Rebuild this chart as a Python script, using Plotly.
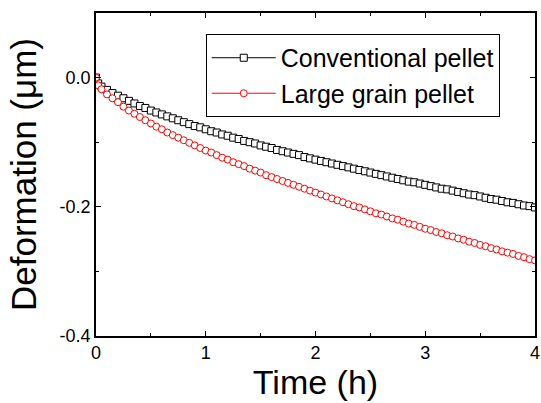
import plotly.graph_objects as go

# Time (h)
time_h = [0.0, 0.02, 0.05, 0.10, 0.15, 0.20, 0.25, 0.30, 0.35, 0.40, 0.45, 0.50, 0.55, 0.60, 0.65, 0.70,
          0.75, 0.80, 0.85, 0.90, 0.95, 1.00, 1.05, 1.10, 1.15, 1.20, 1.25, 1.30, 1.35, 1.40, 1.45,
          1.50, 1.55, 1.60, 1.65, 1.70, 1.75, 1.80, 1.85, 1.90, 1.95, 2.00, 2.05, 2.10, 2.15, 2.20,
          2.25, 2.30, 2.35, 2.40, 2.45, 2.50, 2.55, 2.60, 2.65, 2.70, 2.75, 2.80, 2.85, 2.90, 2.95,
          3.00, 3.05, 3.10, 3.15, 3.20, 3.25, 3.30, 3.35, 3.40, 3.45, 3.50, 3.55, 3.60, 3.65, 3.70,
          3.75, 3.80, 3.85, 3.90, 3.95, 4.00]

# Deformation (um), conventional pellet
conventional = [0.000, -0.009, -0.014, -0.019, -0.024, -0.028, -0.032, -0.036, -0.040, -0.044, -0.047,
                -0.051, -0.054, -0.057, -0.060, -0.063, -0.066, -0.069, -0.072, -0.075, -0.077,
                -0.080, -0.083, -0.085, -0.088, -0.090, -0.093, -0.095, -0.098, -0.100, -0.102,
                -0.105, -0.107, -0.109, -0.112, -0.114, -0.116, -0.118, -0.120, -0.123, -0.125,
                -0.127, -0.129, -0.131, -0.133, -0.135, -0.137, -0.139, -0.141, -0.143, -0.145,
                -0.147, -0.149, -0.151, -0.153, -0.155, -0.157, -0.159, -0.161, -0.162, -0.164,
                -0.166, -0.168, -0.170, -0.172, -0.173, -0.175, -0.177, -0.179, -0.181, -0.182,
                -0.184, -0.186, -0.188, -0.189, -0.191, -0.193, -0.194, -0.196, -0.198, -0.199,
                -0.201]

# Deformation (um), large grain pellet
large_grain = [0.000, -0.012, -0.018, -0.026, -0.032, -0.038, -0.045, -0.051, -0.056, -0.061, -0.066,
               -0.071, -0.076, -0.080, -0.085, -0.089, -0.093, -0.097, -0.101, -0.105, -0.109,
               -0.113, -0.116, -0.120, -0.124, -0.127, -0.131, -0.134, -0.137, -0.141, -0.144,
               -0.147, -0.151, -0.154, -0.157, -0.160, -0.163, -0.166, -0.169, -0.172, -0.175,
               -0.178, -0.181, -0.184, -0.187, -0.190, -0.193, -0.196, -0.199, -0.201, -0.204,
               -0.207, -0.210, -0.212, -0.215, -0.218, -0.220, -0.223, -0.226, -0.228, -0.231,
               -0.234, -0.236, -0.239, -0.241, -0.244, -0.246, -0.249, -0.251, -0.254, -0.256,
               -0.259, -0.261, -0.264, -0.266, -0.269, -0.271, -0.273, -0.276, -0.278, -0.281,
               -0.283]

x_ticks = [0, 1, 2, 3, 4]
y_ticks = [-0.4, -0.2, 0.0]
y_tick_labels = ["-0.4", "-0.2", "0.0"]

FONT = "Arial, Liberation Sans, sans-serif"

fig = go.Figure()
fig.add_trace(go.Scatter(
    x=time_h, y=conventional, name="Conventional pellet", mode="lines+markers",
    line=dict(color="black", width=1),
    marker=dict(symbol="square", size=7, color="white", line=dict(color="black", width=1)),
))
fig.add_trace(go.Scatter(
    x=time_h, y=large_grain, name="Large grain pellet", mode="lines+markers",
    line=dict(color="red", width=1),
    marker=dict(symbol="circle", size=7, color="white", line=dict(color="red", width=1)),
))

axis_common = dict(
    showline=True, linecolor="black", linewidth=1.5, mirror="ticks",
    ticks="inside", ticklen=5, tickwidth=1, tickcolor="black",
    showgrid=False, zeroline=False, automargin=False,
    tickfont=dict(family=FONT, size=18, color="black"),
)

fig.update_xaxes(
    range=[0, 4], tickvals=x_ticks,
    minor=dict(ticks="inside", ticklen=3, dtick=0.5, tick0=0, tickcolor="black", showgrid=False),
    title=dict(text="Time (h)", font=dict(family=FONT, size=34, color="black"), standoff=7),
    **axis_common,
)
fig.update_yaxes(
    range=[-0.4, 0.1], tickvals=y_ticks, ticktext=y_tick_labels,
    minor=dict(ticks="inside", ticklen=3, dtick=0.1, tick0=0, tickcolor="black", showgrid=False),
    title=dict(text="Deformation (\u03bcm)", font=dict(family=FONT, size=35, color="black"), standoff=12),
    **axis_common,
)

fig.update_layout(
    width=541, height=403,
    margin=dict(l=96, r=6, t=13, b=67),
    paper_bgcolor="white", plot_bgcolor="white",
    font=dict(family=FONT, color="black"),
    showlegend=True,
    legend=dict(
        x=0.25, xanchor="left", y=0.935, yanchor="top",
        bgcolor="white", bordercolor="black", borderwidth=1,
        font=dict(family=FONT, size=25, color="black"),
        itemwidth=64, tracegroupgap=0,
    ),
)

fig.write_html("out.html", config={"displayModeBar": False},
               post_script="document.body.style.margin='0';")
